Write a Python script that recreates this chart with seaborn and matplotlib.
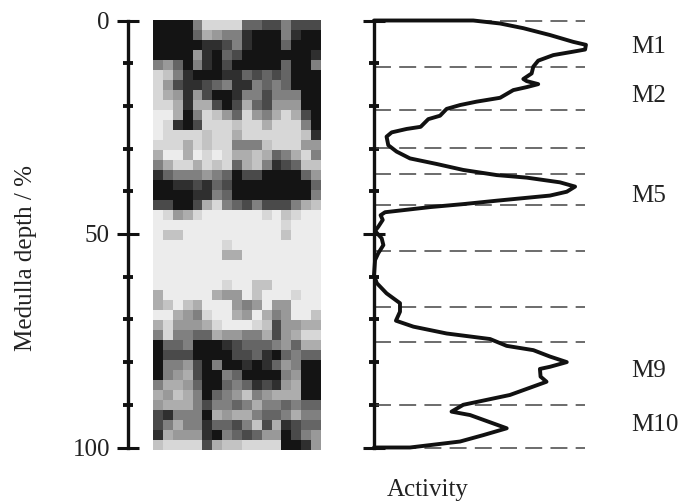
import numpy as np
import matplotlib
matplotlib.use("Agg")
import matplotlib.pyplot as plt
import seaborn as sns

# === Data ===
# one string per row of the activity map, 0 = pale, 9 = black
map_rows = [
    "99995111166775777",
    "99996345589995899",
    "99999887589996999",
    "99994896799999998",
    "54695897999996995",
    "12589998867676999",
    "14788765885656999",
    "13484799855755599",
    "11383379736744499",
    "00395124614531379",
    "01897111211311159",
    "01111211311111128",
    "11131211555211144",
    "30030101332365315",
    "53113121632587622",
    "86555456977999964",
    "99887867999999996",
    "99998856999999995",
    "77997315675777532",
    "01431000000102100",
    "00000000000001000",
    "02200000000002000",
    "00000001000000000",
    "00000003300000000",
    "00000000000000000",
    "00000000000000000",
    "00000001002200000",
    "30000034402000100",
    "32023000454044000",
    "00345100340354002",
    "31444310001274433",
    "51556634455374311",
    "96659998766654633",
    "97779999776896566",
    "95547959989864599",
    "95437995699995499",
    "53346996568784399",
    "34235965425433399",
    "43335755653556566",
    "78555934335665355",
    "75355866752738766",
    "83444895676449754",
    "21111732211119984",
]
activity = [0, 46.6, 59.2, 70.1, 82.6, 93.5, 99.5, 99.1, 93.5, 84.2, 77.1, 74.8, 74.0, 70.1, 71.7, 77.1,
            71.7, 65.4, 59.2, 48.2, 40.4, 34.1, 31.0, 25.5, 21.9, 15.3, 8.3, 5.9, 6.7, 10.6, 16.9, 29.4,
            41.9, 57.6, 71.7, 87.3, 94.4, 90.5, 82.6, 57.6, 41.9, 26.3, 5.2, 3.1, 4.1, 2.0, 0.5, 3.6,
            4.4, 2.0, 0.5, 0, 1.3, 5.9, 12.2, 12.2, 10.3, 18.5, 34.1, 54.5, 62.3, 74.8, 82.6, 90.5,
            82.6, 77.9, 78.2, 81.0, 63.8, 41.9, 36.4, 45.1, 62.3, 51.3, 40.4, 16.9, 0]
depth = [0, 0, 0.7, 1.8, 3.4, 5.0, 5.7, 6.8, 7.3, 8.1, 9.4, 10.8, 12.4, 13.7, 14.2, 14.9,
         15.6, 16.3, 18.1, 19.0, 19.8, 20.7, 22.3, 23.1, 24.9, 25.4, 26.2, 27.2, 29.2, 30.7, 32.3, 33.6,
         35.0, 36.2, 36.8, 37.9, 38.9, 40.1, 41.0, 42.2, 43.0, 43.7, 44.9, 45.6, 46.7, 48.3, 49.3, 51.0,
         52.6, 54.5, 56.1, 59.6, 61.5, 63.9, 66.2, 68.2, 70.3, 71.7, 73.3, 74.6, 76.2, 77.2, 78.7, 80.0,
         81.1, 81.6, 83.4, 84.6, 87.7, 90.0, 91.6, 92.4, 95.5, 97.1, 98.6, 100, 100]
layer_bounds = [0, 11, 20.9, 29.9, 36, 43.1, 54, 67.1, 75.2, 90, 100]
major_ticks = [0, 50, 100]
minor_ticks = [10, 20, 30, 40, 60, 70, 80, 90]
layer_names = ["M1", "M2", "M5", "M9", "M10"]
layer_label_y = [47, 96, 196, 371, 425]

W, H = 694, 504
sns.set_theme(style="white")
plt.rcParams["font.family"] = ["Liberation Serif", "DejaVu Serif"]
plt.rcParams["text.color"] = "#222222"
FS = 18
INK = "#111111"


def px_axes(fig, x0, y0, x1, y1):
    return fig.add_axes([x0 / W, 1 - y1 / H, (x1 - x0) / W, (y1 - y0) / H])


def depth_axis(ax):
    ax.set_ylim(100, 0)
    ax.patch.set_visible(False)
    for s in ["top", "right", "bottom"]:
        ax.spines[s].set_visible(False)
    ax.spines["left"].set_linewidth(2.4)
    ax.spines["left"].set_color(INK)
    ax.set_xticks([])
    ax.set_yticks(major_ticks)
    ax.set_yticks(minor_ticks, minor=True)
    ax.tick_params(axis="y", which="major", direction="inout", length=16, width=2.2, color=INK, left=True)
    ax.tick_params(axis="y", which="minor", direction="inout", length=6.5, width=2.8, color=INK, left=True)


fig = plt.figure(figsize=(W / 100, H / 100), dpi=100)

# === Activity map ===
ax_map = px_axes(fig, 153, 20, 321, 450)
grid = np.array([[int(c) for c in row] for row in map_rows])
sns.heatmap(grid, ax=ax_map, cbar=False, vmin=0, vmax=9, xticklabels=False, yticklabels=False,
            cmap=sns.blend_palette(["#ececec", "#8e8e8e", "#141414"], as_cmap=True))

# === Depth scale ===
ax_depth = px_axes(fig, 128, 20.5, 129, 447.5)
depth_axis(ax_depth)
ax_depth.set_yticklabels([str(t) for t in major_ticks], fontsize=FS, color="#222222")
ax_depth.tick_params(axis="y", which="major", pad=5)
fig.text(26 / W, 1 - 258 / H, "Medulla depth / %", rotation=90, ha="center", va="center", fontsize=FS)

# === Activity profile ===
ax_act = px_axes(fig, 374, 20.5, 587, 447.5)
depth_axis(ax_act)
ax_act.set_yticklabels([])
ax_act.set_xlim(0, 100)
for d in layer_bounds:
    ax_act.axhline(d, xmin=0, xmax=0.99, color="#444444", lw=1.1, dashes=(11.1, 5.4), clip_on=False, zorder=1)
sns.lineplot(x=activity, y=depth, ax=ax_act, sort=False, estimator=None, orient="y", color=INK, lw=2.8,
             clip_on=False, zorder=3)
ax_act.set_ylim(100, 0)
ax_act.set_xlabel("")
ax_act.set_ylabel("")
for name, y in zip(layer_names, layer_label_y):
    fig.text(631 / W, 1 - y / H, name, fontsize=FS, va="center")
fig.text(428 / W, 1 - 490 / H, "Activity", ha="center", va="center", fontsize=FS)

fig.savefig("out.png", dpi=100, facecolor="white")
